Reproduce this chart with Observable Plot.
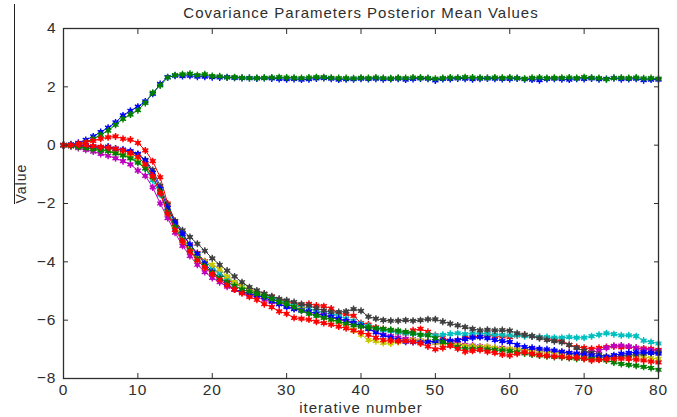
<!DOCTYPE html>
<html><head><meta charset="utf-8">
<script src="https://cdn.jsdelivr.net/npm/d3@7"></script>
<script src="https://cdn.jsdelivr.net/npm/@observablehq/plot@0.6"></script>
<style>
body{margin:0;background:#fff;}
#chart{position:relative;width:677px;height:417px;background:#fff;}
#edge{position:absolute;left:14px;top:4px;width:1px;height:200px;background:#222;}
</style></head><body><div id="chart"><div id="edge"></div></div>
<script>
const title = "Covariance Parameters Posterior Mean Values";
const xLabel = "iterative number";
const yLabel = "Value";
const xTicks = [0, 10, 20, 30, 40, 50, 60, 70, 80];
const yTicks = [-8, -6, -4, -2, 0, 2, 4];
const seriesNames = ["s1","s2","s3","s4","s5","s6","s7","s8","s9","s10"];
const seriesColors = ["#0000ff","#008000","#ff0000","#00bfbf","#bf00bf","#c8c800","#404040","#0000ff","#008000","#ff0000"];

const s1 = [0,0.03,0.08,0.18,0.3,0.45,0.6,0.78,1.02,1.18,1.32,1.5,1.76,2.1,2.33,2.38,2.37,2.38,2.35,2.35,2.33,2.32,2.33,2.31,2.3,2.3,2.29,2.3,2.29,2.27,2.26,2.27,2.25,2.26,2.29,2.3,2.28,2.25,2.26,2.26,2.28,2.27,2.28,2.26,2.27,2.28,2.25,2.27,2.29,2.28,2.22,2.27,2.27,2.29,2.28,2.26,2.28,2.29,2.28,2.27,2.27,2.29,2.26,2.25,2.23,2.27,2.28,2.26,2.25,2.28,2.27,2.29,2.26,2.27,2.3,2.26,2.27,2.28,2.23,2.25,2.25];
const s2 = [0,0.01,0.04,0.1,0.22,0.35,0.5,0.7,0.9,1.05,1.2,1.45,1.8,2.05,2.32,2.4,2.43,2.45,2.4,2.43,2.37,2.36,2.32,2.33,2.31,2.3,2.3,2.31,2.32,2.33,2.32,2.31,2.3,2.32,2.33,2.33,2.31,2.3,2.3,2.29,2.31,2.3,2.32,2.3,2.29,2.31,2.3,2.32,2.31,2.3,2.28,2.3,2.32,2.31,2.33,2.32,2.31,2.3,2.32,2.31,2.32,2.3,2.28,2.31,2.32,2.3,2.31,2.31,2.32,2.3,2.33,2.31,2.3,2.26,2.3,2.31,2.3,2.32,2.29,2.3,2.28];
const s3 = [0,0,0.05,0.1,0.15,0.22,0.27,0.3,0.22,0.19,0.08,-0.18,-0.55,-1.1,-2.0,-2.6,-3.0,-3.45,-3.7,-3.98,-4.2,-4.4,-4.6,-4.75,-4.85,-4.98,-5.05,-5.1,-5.2,-5.3,-5.35,-5.45,-5.48,-5.44,-5.5,-5.52,-5.6,-5.78,-5.8,-5.85,-6.1,-6.15,-6.25,-6.3,-6.36,-6.42,-6.45,-6.35,-6.3,-6.4,-6.52,-6.6,-6.72,-6.7,-6.6,-6.58,-6.55,-6.52,-6.55,-6.56,-6.58,-6.52,-6.5,-6.55,-6.58,-6.62,-6.68,-6.7,-6.85,-6.92,-6.95,-6.98,-6.95,-6.92,-6.9,-6.93,-6.92,-6.95,-6.97,-6.98,-7.02];
const s4 = [0,-0.01,-0.03,-0.06,-0.1,-0.14,-0.2,-0.27,-0.33,-0.42,-0.55,-0.8,-1.2,-1.7,-2.25,-2.85,-3.2,-3.5,-3.75,-4.0,-4.2,-4.4,-4.55,-4.7,-4.85,-4.95,-5.05,-5.12,-5.25,-5.32,-5.4,-5.5,-5.55,-5.6,-5.68,-5.75,-5.78,-5.85,-5.95,-6.02,-6.12,-6.2,-6.3,-6.35,-6.38,-6.42,-6.45,-6.47,-6.5,-6.5,-6.52,-6.5,-6.47,-6.45,-6.48,-6.45,-6.45,-6.47,-6.5,-6.5,-6.52,-6.52,-6.55,-6.55,-6.58,-6.58,-6.6,-6.6,-6.58,-6.6,-6.6,-6.55,-6.5,-6.45,-6.48,-6.52,-6.52,-6.55,-6.7,-6.75,-6.8];
const s5 = [0,-0.04,-0.1,-0.16,-0.22,-0.3,-0.36,-0.45,-0.55,-0.66,-0.87,-1.05,-1.45,-2.0,-2.5,-3.0,-3.45,-3.8,-4.1,-4.35,-4.55,-4.7,-4.85,-4.95,-5.05,-5.15,-5.2,-5.3,-5.38,-5.45,-5.52,-5.6,-5.65,-5.72,-5.78,-5.82,-5.9,-5.98,-6.05,-6.1,-6.2,-6.3,-6.4,-6.5,-6.55,-6.6,-6.64,-6.66,-6.7,-6.72,-6.78,-6.8,-6.78,-6.82,-6.85,-6.87,-6.9,-6.92,-6.95,-6.95,-6.98,-7.0,-7.02,-7.0,-7.05,-7.08,-7.06,-7.1,-7.12,-7.15,-7.12,-7.1,-7.05,-6.95,-6.88,-6.87,-6.9,-6.95,-7.0,-7.02,-7.05];
const s6 = [0,-0.02,-0.05,-0.08,-0.12,-0.16,-0.2,-0.25,-0.32,-0.4,-0.5,-0.72,-1.1,-1.6,-2.2,-2.75,-3.15,-3.5,-3.78,-4.0,-4.1,-4.25,-4.5,-4.7,-4.82,-4.95,-5.05,-5.15,-5.28,-5.38,-5.45,-5.55,-5.62,-5.7,-5.78,-5.88,-5.98,-6.08,-6.2,-6.35,-6.5,-6.68,-6.72,-6.78,-6.8,-6.75,-6.72,-6.68,-6.7,-6.72,-6.78,-6.8,-6.82,-6.85,-6.88,-6.9,-6.92,-6.9,-6.95,-6.98,-6.98,-7.0,-7.02,-7.04,-7.05,-7.08,-7.1,-7.12,-7.15,-7.2,-7.25,-7.27,-7.28,-7.28,-7.26,-7.24,-7.22,-7.22,-7.25,-7.3,-7.33];
const s7 = [0,-0.01,-0.02,-0.04,-0.06,-0.08,-0.1,-0.13,-0.18,-0.24,-0.32,-0.5,-0.85,-1.4,-2.05,-2.6,-2.92,-3.15,-3.38,-3.62,-3.88,-4.1,-4.3,-4.5,-4.7,-4.87,-4.98,-5.09,-5.18,-5.27,-5.32,-5.38,-5.45,-5.5,-5.6,-5.67,-5.72,-5.72,-5.7,-5.62,-5.68,-5.88,-5.95,-6.0,-6.02,-6.02,-6.0,-6.02,-6.0,-5.97,-5.97,-6.05,-6.12,-6.18,-6.24,-6.3,-6.35,-6.33,-6.35,-6.34,-6.36,-6.45,-6.5,-6.55,-6.62,-6.68,-6.72,-6.76,-6.85,-6.96,-7.05,-7.12,-7.18,-7.24,-7.27,-7.24,-7.2,-7.18,-7.15,-7.12,-7.1];
const s8 = [0,-0.01,0,-0.03,-0.05,-0.07,-0.05,-0.12,-0.15,-0.2,-0.3,-0.52,-0.95,-1.5,-2.15,-2.65,-3.05,-3.4,-3.72,-4.05,-4.35,-4.55,-4.75,-4.95,-5.02,-5.1,-5.15,-5.22,-5.35,-5.45,-5.55,-5.62,-5.66,-5.7,-5.78,-5.84,-5.88,-5.95,-6.02,-6.1,-6.18,-6.3,-6.42,-6.52,-6.6,-6.68,-6.74,-6.75,-6.76,-6.75,-6.72,-6.7,-6.7,-6.68,-6.65,-6.6,-6.58,-6.62,-6.68,-6.72,-6.75,-6.85,-6.92,-6.95,-6.98,-7.0,-7.04,-7.08,-7.12,-7.15,-7.18,-7.21,-7.25,-7.27,-7.2,-7.15,-7.12,-7.1,-7.1,-7.12,-7.15];
const s9 = [0,-0.03,-0.06,-0.1,-0.14,-0.18,-0.2,-0.28,-0.35,-0.45,-0.6,-0.8,-1.1,-1.6,-2.3,-2.8,-3.25,-3.6,-3.9,-4.15,-4.38,-4.55,-4.7,-4.82,-4.95,-5.02,-5.1,-5.18,-5.28,-5.38,-5.45,-5.55,-5.68,-5.78,-5.85,-5.92,-5.98,-6.05,-6.12,-6.18,-6.22,-6.25,-6.28,-6.3,-6.33,-6.36,-6.4,-6.45,-6.5,-6.52,-6.62,-6.75,-6.85,-6.92,-6.98,-6.98,-6.98,-7.0,-7.02,-7.04,-7.06,-7.1,-7.14,-7.18,-7.21,-7.24,-7.26,-7.27,-7.3,-7.32,-7.32,-7.33,-7.35,-7.38,-7.45,-7.5,-7.53,-7.56,-7.6,-7.64,-7.7];
const s10 = [0,0,0.02,0,-0.03,-0.06,-0.08,-0.12,-0.18,-0.27,-0.4,-0.65,-1.05,-1.65,-2.35,-2.9,-3.3,-3.65,-3.95,-4.2,-4.42,-4.62,-4.8,-4.95,-5.08,-5.2,-5.3,-5.45,-5.55,-5.7,-5.78,-5.92,-5.95,-5.98,-6.05,-6.1,-6.15,-6.22,-6.28,-6.35,-6.42,-6.5,-6.6,-6.68,-6.7,-6.72,-6.72,-6.74,-6.8,-6.9,-7.0,-6.95,-6.88,-6.98,-7.08,-7.05,-7.02,-7.08,-7.12,-7.18,-7.21,-7.15,-7.1,-7.15,-7.2,-7.22,-7.24,-7.25,-7.28,-7.28,-7.32,-7.38,-7.36,-7.34,-7.32,-7.32,-7.33,-7.35,-7.38,-7.42,-7.45];

const seriesValues = [s1, s2, s3, s4, s5, s6, s7, s8, s9, s10];
const rowsBySeries = seriesValues.map((vals, k) =>
  vals.map((v, i) => ({iter: i, value: v, series: seriesNames[k]})));

const FONT = "'Liberation Sans', Arial, Helvetica, sans-serif";
const ink = "#2e2e2e";

const seriesMarks = rowsBySeries.flatMap(rows => [
  Plot.line(rows, {x: "iter", y: "value", stroke: "series", strokeWidth: 1}),
  Plot.dot(rows, {x: "iter", y: "value", fill: "series", r: 2.2}),
  Plot.dot(rows, {x: "iter", y: "value", stroke: "series", symbol: "asterisk", r: 3.3, strokeWidth: 1.4})
]);

const noText = () => "";

const chart = Plot.plot({
  width: 677,
  height: 417,
  marginLeft: 63,
  marginRight: 19,
  marginTop: 28,
  marginBottom: 39,
  style: {fontFamily: FONT, fontSize: "15px", background: "#fff", color: ink, letterSpacing: "1px"},
  x: {domain: [0, 80]},
  y: {domain: [-8, 4]},
  color: {domain: seriesNames, range: seriesColors},
  marks: [
    ...seriesMarks,
    Plot.frame({stroke: ink, strokeWidth: 1.3}),
    Plot.axisX(xTicks, {anchor: "bottom", tickSize: 0, tickPadding: 5, label: null, fill: ink, fontSize: 15.5}),
    Plot.axisY(yTicks, {anchor: "left", tickSize: 0, tickPadding: 7, label: null, fill: ink, fontSize: 15.5}),
    Plot.axisX(xTicks, {anchor: "bottom", tickSize: 5, dy: -5, tickFormat: noText, label: null, stroke: ink}),
    Plot.axisX(xTicks, {anchor: "top", tickSize: 5, dy: 5, tickFormat: noText, label: null, stroke: ink}),
    Plot.axisY(yTicks, {anchor: "left", tickSize: 5, dx: 5, tickFormat: noText, label: null, stroke: ink}),
    Plot.axisY(yTicks, {anchor: "right", tickSize: 5, dx: -5, tickFormat: noText, label: null, stroke: ink}),
    Plot.text([title], {frameAnchor: "top", dy: -15, lineAnchor: "middle", fill: ink, fontSize: 15}),
    Plot.text([xLabel], {frameAnchor: "bottom", dy: 30, lineAnchor: "middle", fill: ink, fontSize: 15}),
    Plot.text([yLabel], {frameAnchor: "left", dx: -42, rotate: -90, lineAnchor: "middle", fill: ink, fontSize: 14})
  ]
});
document.getElementById("chart").appendChild(chart);
</script></body></html>
